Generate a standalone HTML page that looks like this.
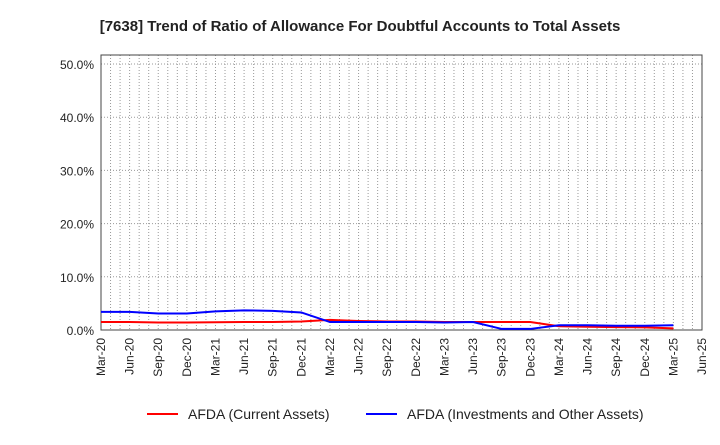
<!DOCTYPE html>
<html><head><meta charset="utf-8"><style>
body{margin:0;background:#fff;font-family:"Liberation Sans",Arial,sans-serif}
</style></head><body>
<svg id="c" width="720" height="440" xmlns="http://www.w3.org/2000/svg">
<text x="360" y="31" text-anchor="middle" font-size="15" font-weight="bold" fill="#222">[7638]  Trend of Ratio of Allowance For Doubtful Accounts to Total Assets</text>
<g id="grid"></g><g id="axes"></g><g id="series"></g>
<g>
<line x1="147" y1="414" x2="178" y2="414" stroke="#f00" stroke-width="2"/>
<text x="188" y="419" font-size="14" fill="#222">AFDA (Current Assets)</text>
<line x1="366" y1="414" x2="397" y2="414" stroke="#00f" stroke-width="2"/>
<text x="407" y="419" font-size="14" fill="#222">AFDA (Investments and Other Assets)</text>
</g>
</svg>
<script>
const xLabels=["Mar-20","Jun-20","Sep-20","Dec-20","Mar-21","Jun-21","Sep-21","Dec-21","Mar-22","Jun-22","Sep-22","Dec-22","Mar-23","Jun-23","Sep-23","Dec-23","Mar-24","Jun-24","Sep-24","Dec-24","Mar-25","Jun-25"];
const yTicks=[0,10,20,30,40,50];
const currentAssets=[1.5,1.5,1.4,1.4,1.45,1.5,1.5,1.6,1.9,1.7,1.6,1.6,1.5,1.5,1.5,1.5,0.7,0.6,0.55,0.5,0.3];
const investments=[3.4,3.4,3.1,3.1,3.5,3.7,3.6,3.3,1.5,1.5,1.5,1.5,1.4,1.5,0.2,0.2,0.9,0.9,0.8,0.8,0.9];
const L=101,R=702,T=55,B=330;
const X=i=>L+(R-L)*i/(xLabels.length-1);
const Y=v=>B-v*5.32;
const NS="http://www.w3.org/2000/svg";
function mk(p,t,a){const e=document.createElementNS(NS,t);for(const k in a)e.setAttribute(k,a[k]);p.appendChild(e);return e;}
const g=document.getElementById('grid'),ax=document.getElementById('axes'),s=document.getElementById('series');
for(let m=0;m<=63;m++){const x=L+(R-L)*m/63;const l=mk(g,'line',{x1:x,x2:x,y1:T,y2:B,stroke:'#999','stroke-dasharray':'1,2','stroke-width':1});

}
yTicks.forEach(v=>{const y=Y(v);const l=mk(g,'line',{x1:L,x2:R,y1:y,y2:y,stroke:'#999','stroke-dasharray':'1,2'});


const t=mk(ax,'text',{x:L-7,y:y+5,'text-anchor':'end','font-size':12,fill:'#222'});t.textContent=v.toFixed(1)+'%';

});
const f=mk(ax,'rect',{x:L,y:T,width:R-L,height:B-T,fill:'none',stroke:'#444','stroke-width':1});


xLabels.forEach((lb,i)=>{const x=X(i);const t=mk(ax,'text',{transform:`translate(${x+4},${B+8}) rotate(-90)`,'text-anchor':'end','font-size':12,fill:'#222'});t.textContent=lb;

});
function line(d,c,n){const p=mk(s,'polyline',{points:d.map((v,i)=>X(i)+','+Y(v)).join(' '),fill:'none',stroke:c,'stroke-width':2});

}
line(currentAssets,'#f00','line-current-assets');
line(investments,'#00f','line-investments');
</script>
</body></html>
